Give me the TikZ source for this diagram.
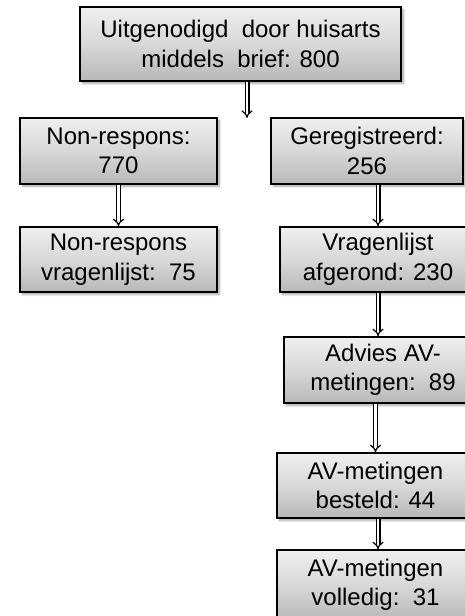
\documentclass[tikz,border=0pt]{standalone}
\usepackage{fontspec}
\setmainfont{Liberation Sans}
\usetikzlibrary{arrows.meta,shadows.blur}
\definecolor{boxtop}{HTML}{EFEFEF}
\definecolor{boxmid}{HTML}{D8D8D8}
\definecolor{boxbot}{HTML}{B8B8B8}
\tikzset{
  flowbox/.style={draw=black, line width=1.4pt,
    top color=boxtop, bottom color=boxbot, middle color=boxmid,
    align=center, inner sep=0pt,
    font=\fontsize{24}{29.5}\selectfont,
    blur shadow={shadow xshift=2.5pt, shadow yshift=-2.5pt,
      shadow blur steps=6, shadow opacity=35}},
  flowarrow/.style={line width=1.2pt, double distance=2.6pt, -{Implies}}
}
\begin{document}
\begin{tikzpicture}[x=1pt, y=-1pt]
\useasboundingbox (0,0) rectangle (465,616);

% top box
\node[flowbox, minimum width=321pt, minimum height=74pt] (invite) at (240.5,44)
  {Uitgenodigd\ \ door huisarts\\middels\ \ brief: 800};

% left column
\node[flowbox, minimum width=197pt, minimum height=66pt] (nr1) at (118.5,151)
  {Non-respons:\\770};
\node[flowbox, minimum width=197pt, minimum height=65pt] (nr2) at (118.5,259.5)
  {Non-respons\\vragenlijst:\ \ 75};

% right column
\node[flowbox, minimum width=192pt, minimum height=66pt] (reg) at (367,151)
  {Geregistreerd:\\256};
\node[flowbox, minimum width=196pt, minimum height=65pt] (quest) at (378,259.5)
  {Vragenlijst\\afgerond: 230};
\node[flowbox, minimum width=198pt, minimum height=66pt] (advice) at (383,370)
  {Advies AV-\\metingen:\ \ 89};
\node[flowbox, minimum width=197pt, minimum height=65pt] (ordered) at (375.5,485.5)
  {AV-metingen\\besteld: 44};
\node[flowbox, minimum width=197pt, minimum height=70pt] (complete) at (375.5,585)
  {AV-metingen\\volledig:\ \ 31};

% connectors
\coordinate (split) at (247,118);
\coordinate (rcol) at (378,0);
\coordinate (rcolb) at (375.5,0);
\draw[flowarrow] (invite.south -| split) -- (split);
\draw[flowarrow] (nr1.south) -- (nr2.north);
\draw[flowarrow] (reg.south -| rcol) -- (quest.north -| rcol);
\draw[flowarrow] (quest.south -| rcol) -- (advice.north -| rcol);
\draw[flowarrow] (advice.south -| rcolb) -- (ordered.north -| rcolb);
\draw[flowarrow] (ordered.south -| rcol) -- (complete.north -| rcol);
\end{tikzpicture}
\end{document}
